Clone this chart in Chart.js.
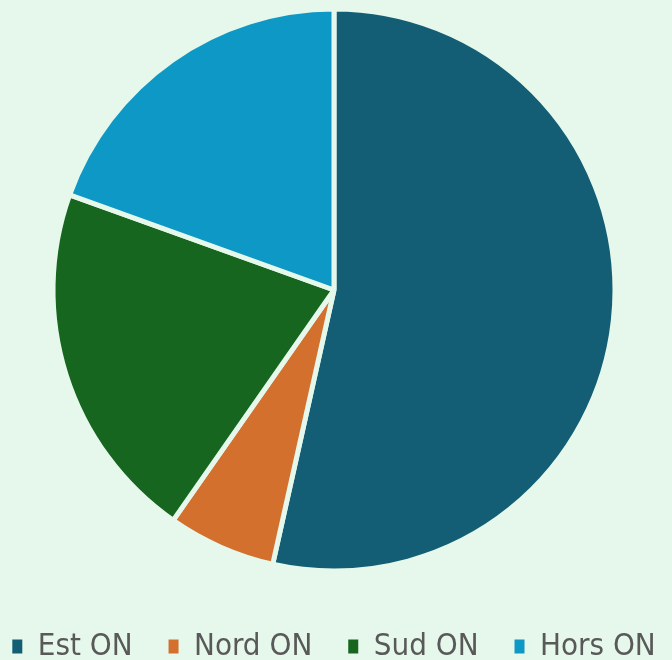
<!DOCTYPE html>
<html>
<head>
<meta charset="utf-8">
<script src="https://cdn.jsdelivr.net/npm/chart.js@4"></script>
<style>
html,body{margin:0;padding:0;background:#e5f8eb;overflow:hidden;}
#wrap{width:672px;height:660px;overflow:hidden;position:relative;}
#c{position:absolute;left:-31px;top:-15px;}
</style>
</head>
<body>
<div id="wrap"><canvas id="c" width="730" height="675"></canvas></div>
<script>
const categories = ["Est ON", "Nord ON", "Sud ON", "Hors ON"];
const values = [53.5, 6.2, 20.8, 19.5];
const colors = ["#135e75", "#d4702e", "#16661f", "#0e98c5"];
const bg = "#e5f8eb";

new Chart(document.getElementById('c'), {
  type: 'pie',
  data: {
    labels: categories,
    datasets: [{
      data: values,
      backgroundColor: colors,
      borderColor: bg,
      borderWidth: 5
    }]
  },
  options: {
    responsive: false,
    animation: false,
    radius: 281,
    layout: { padding: { top: 0, left: 0, right: 0, bottom: -12 } },
    plugins: {
      tooltip: { enabled: false },
      legend: {
        position: 'bottom',
        labels: {
          font: { family: "'DejaVu Sans Condensed', sans-serif", size: 31 },
          color: '#595959',
          boxWidth: 10,
          boxHeight: 14,
          padding: 36,
          generateLabels: (chart) => {
            const items = Chart.overrides.pie.plugins.legend.labels.generateLabels(chart);
            items.forEach(it => { it.lineWidth = 0; it.strokeStyle = 'rgba(0,0,0,0)'; });
            return items;
          }
        }
      }
    }
  }
});
</script>
</body>
</html>
